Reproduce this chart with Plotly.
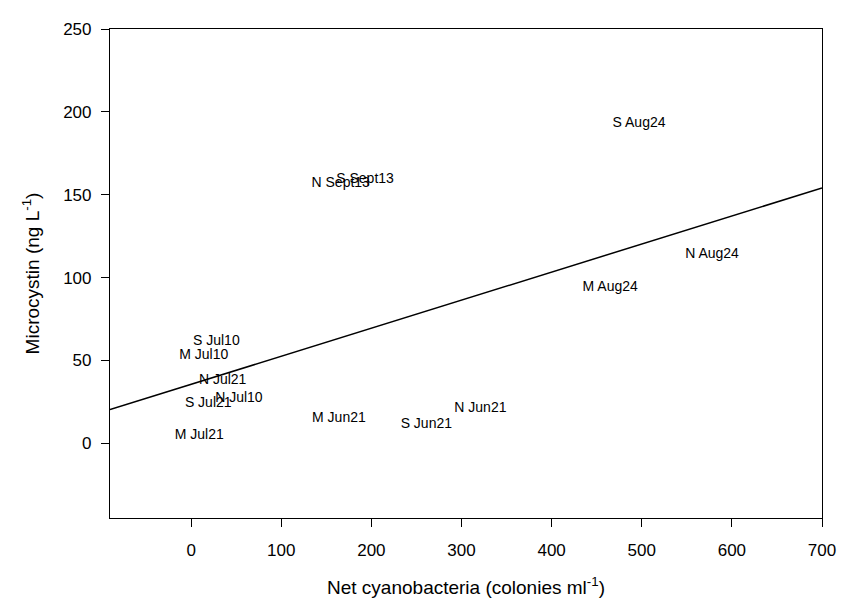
import numpy as np
import plotly.graph_objects as go

# Sample labels and values (net cyanobacteria colonies/ml, microcystin ng/L)
labels = ["S Aug24", "S Sept13", "N Sept13", "N Aug24", "M Aug24",
          "S Jul10", "M Jul10", "N Jul21", "N Jul10", "S Jul21",
          "M Jun21", "M Jul21", "S Jun21", "N Jun21"]
cyano = [497, 193, 166, 578, 465, 28, 14, 35, 53, 19, 164, 9, 261, 321]
microcystin = [193, 159.5, 157, 114, 94, 61.5, 53, 38, 27, 24, 15, 5, 11.5, 21]

x_ticks = [0, 100, 200, 300, 400, 500, 600, 700]
y_ticks = [0, 50, 100, 150, 200, 250]
x_range = [-90, 700]
y_range = [-45, 250]

# Linear regression fitted to the data
slope, intercept = np.polyfit(cyano, microcystin, 1)
line_x = np.array(x_range, dtype=float)
line_y = intercept + slope * line_x

FONT = "Liberation Sans, Arial, sans-serif"

fig = go.Figure()
fig.add_trace(go.Scatter(x=line_x, y=line_y, mode="lines",
                         line=dict(color="black", width=1.5),
                         hoverinfo="skip", showlegend=False))
fig.add_trace(go.Scatter(x=cyano, y=microcystin, mode="text", text=labels,
                         textposition="middle center",
                         textfont=dict(family=FONT, size=14, color="black"),
                         showlegend=False))

axis_common = dict(showgrid=False, zeroline=False, showline=True,
                   linecolor="black", linewidth=1.2, mirror=True,
                   ticks="outside", ticklen=8, tickwidth=1.2, tickcolor="black",
                   tickfont=dict(family=FONT, size=17, color="black"))

fig.update_layout(
    width=840, height=599,
    margin=dict(l=102, r=21, t=12, b=89),
    paper_bgcolor="white", plot_bgcolor="white",
    xaxis=dict(range=x_range, tickvals=x_ticks, ticklabelstandoff=8,
               title=dict(text="Net cyanobacteria (colonies ml<sup>-1</sup>)",
                          font=dict(family=FONT, size=19, color="black"),
                          standoff=22),
               **axis_common),
    yaxis=dict(range=y_range, tickvals=y_ticks, ticklabelstandoff=6,
               title=dict(text="Microcystin (ng L<sup>-1</sup>)",
                          font=dict(family=FONT, size=19, color="black"),
                          standoff=18),
               **axis_common),
)

fig.write_html("out.html")
